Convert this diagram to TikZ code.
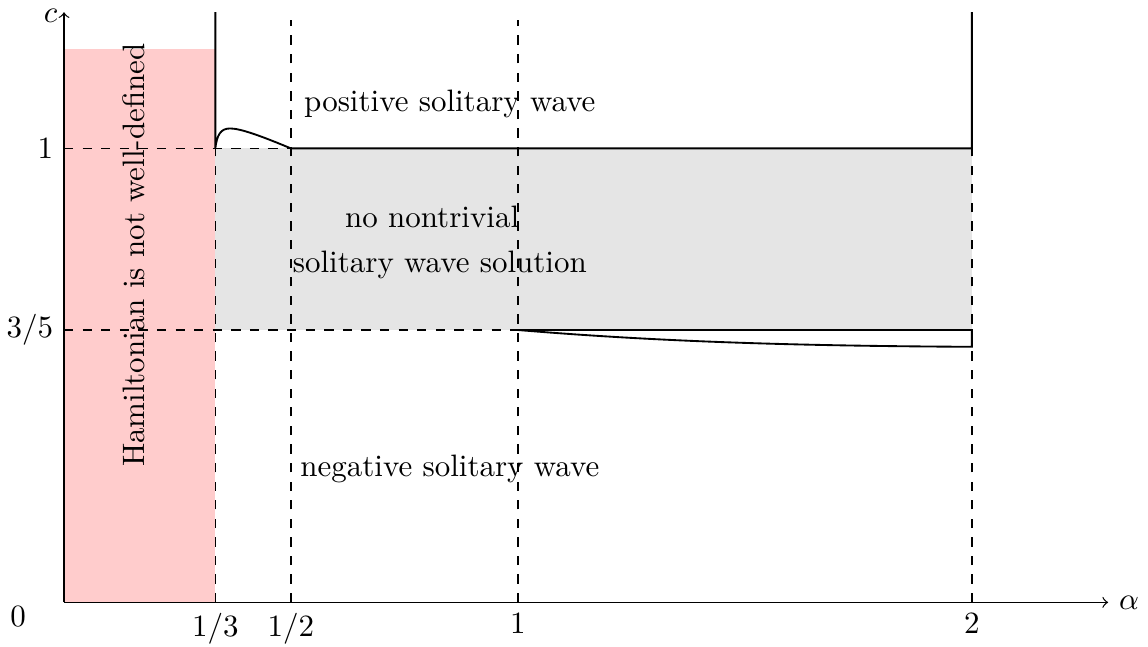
\documentclass[tikz,border=0pt]{standalone}
\usepackage{amsmath,amssymb}
\usepackage{tikz}

\begin{document}
\begin{tikzpicture}[x=5.15cm,y=5.15cm,>=to,
  bnd/.style={semithick},
  guide/.style={dashed}]
  \useasboundingbox (-0.141,-0.097) rectangle (2.388,1.327);
  % ---------- shaded regions
  \fill[red!20] (0,0) rectangle (1/3,1.22);
  \fill[gray!20] (1/3,3/5) rectangle (2,1);
  % ---------- guide lines
  \draw[guide] (0,1) -- (1/2,1);
  \draw[guide] (0,3/5) -- (1,3/5);
  \draw[guide] (1/3,0) -- (1/3,1);
  \draw[guide] (1/2,0) -- (1/2,1.283);
  \draw[guide] (1,0) -- (1,1.283);
  \draw[guide] (2,0) -- (2,1);
  % ---------- axes
  \draw[->] (0,0) -- (2.3,0) node[right] (alab) {$\alpha$};
  \draw[->] (0,0) -- (0,1.30);
  \node[left,inner sep=2pt] (clab) at (0,1.293) {$c$};
  \node (zero) at (-0.101,-0.031) {$0$};
  \foreach \xv/\xl [count=\i] in {0.3333/{1/3},0.5/{1/2},1/1,2/2}
    \node[below] (xt\i) at (\xv,0) {$\xl$};
  \node[left] (yt1) at (0,1) {$1$};
  \node[left] (yt2) at (0,3/5) {$3/5$};
  % ---------- boundary curves
  \draw[bnd] (1/3,1.30) -- (1/3,1)
    .. controls (0.337,1.03) and (0.345,1.044) .. (0.366,1.044)
    .. controls (0.39,1.044) and (0.44,1.025) .. (1/2,1)
    -- (2,1) -- (2,1.30);
  \draw[bnd] (1,3/5) -- (2,3/5) -- (2,0.563)
    .. controls (1.6,0.565) and (1.3,0.575) .. (1,3/5);
  % ---------- region labels
  \node (pos) at (0.85,1.097) {positive solitary wave};
  \node[align=center] (none) at (0.828,0.793) {no nontrivial\hspace*{5pt}\\[2.5pt]solitary wave solution};
  \node (neg) at (0.85,0.295) {negative solitary wave};
  \node[rotate=90] (ham) at (0.154,0.765) {Hamiltonian is not well-defined};
\end{tikzpicture}
\end{document}
